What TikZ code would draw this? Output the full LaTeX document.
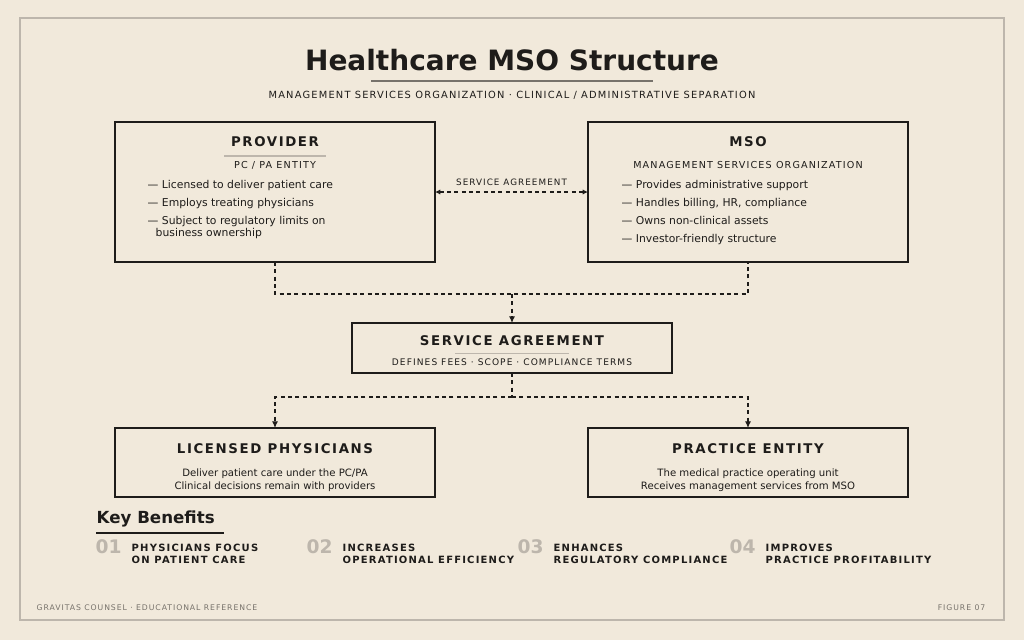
\documentclass[tikz,border=0pt]{standalone}
\usepackage{fontspec}
\setmainfont{DejaVu Sans}
\usetikzlibrary{positioning, arrows.meta, calc}
\definecolor{paper}{HTML}{F1E9DB}
\definecolor{ink}{HTML}{1E1C1A}
\definecolor{soft}{HTML}{77726B}
\definecolor{rulec}{HTML}{BDB6AC}
\newcommand{\spaced}[1]{{\addfontfeatures{LetterSpace=12}#1}}
\tikzset{
  box/.style={draw=ink, line width=1.4pt, fill=paper},
  smallbox/.style={draw=ink, line width=1pt, fill=paper},
  link/.style={draw=ink, line width=0.8pt, dash pattern=on 3pt off 2.5pt},
  tip/.style={-{Latex[length=5pt,width=4.5pt]}},
  head/.style={font=\bfseries\fontsize{10}{12}\selectfont, text=ink},
  note/.style={font=\fontsize{6.6}{8}\selectfont, text=ink},
  item/.style={anchor=north west, font=\fontsize{8.1}{10}\selectfont, text=ink, align=left},
  num/.style={font=\bfseries\fontsize{14}{14}\selectfont, text=rulec, anchor=west},
  benefit/.style={font=\bfseries\fontsize{7.5}{9.5}\selectfont, text=ink, anchor=west, align=left}
}
\begin{document}
\begin{tikzpicture}[x=0.75pt, y=-0.75pt]
    \fill[paper] (0,0) rectangle (1024,640);
    \useasboundingbox (0,0) rectangle (1024,640);
    \draw[rulec, line width=0.8pt] (20,18) rectangle (1004,620);

    % titel
    \node[font=\bfseries\fontsize{21}{24}\selectfont, text=ink] (title) at (512,60) {Healthcare MSO Structure};
    \draw[soft, line width=0.8pt] (371,81) -- (653,81);
    \node[note, font=\fontsize{7.4}{9}\selectfont] (subtitle) at (512,95) {\spaced{MANAGEMENT SERVICES ORGANIZATION · CLINICAL / ADMINISTRATIVE SEPARATION}};

    % provider
    \draw[box] (115,122) rectangle (435,262);
    \coordinate (prov) at (275,262);
    \coordinate (provE) at (435,192);
    \node[head] at (275,142) {\spaced{PROVIDER}};
    \draw[rulec, line width=0.8pt] (224,156) -- (326,156);
    \node[note, font=\fontsize{7.2}{9}\selectfont] at (275,165) {\spaced{PC / PA ENTITY}};
    \node[item] at (143,176) {— Licensed to deliver patient care};
    \node[item] at (143,194) {— Employs treating physicians};
    \node[item] at (143,212) {— Subject to regulatory limits on\\[-1.5pt]\hspace*{6pt}business ownership};

    % mso
    \draw[box] (588,122) rectangle (908,262);
    \coordinate (mso) at (748,262);
    \coordinate (msoW) at (588,192);
    \node[head] at (748,142) {\spaced{MSO}};
    \node[note, font=\fontsize{7.2}{9}\selectfont] at (748,165) {\spaced{MANAGEMENT SERVICES ORGANIZATION}};
    \node[item] at (617,176) {— Provides administrative support};
    \node[item] at (617,194) {— Handles billing, HR, compliance};
    \node[item] at (617,212) {— Owns non-clinical assets};
    \node[item] at (617,230) {— Investor-friendly structure};

    % verbindung oben
    \draw[link, {Latex[length=4pt,width=4pt]}-{Latex[length=4pt,width=4pt]}] (provE) -- (msoW)
        node[midway, above=1pt, note] {\spaced{SERVICE AGREEMENT}};

    % service agreement
    \draw[box] (352,323) rectangle (672,373);
    \coordinate (svcN) at (512,323);
    \coordinate (svcS) at (512,373);
    \node[head] at (512,341) {\spaced{SERVICE AGREEMENT}};
    \draw[rulec, line width=0.6pt] (455,353) -- (569,353);
    \node[note, font=\fontsize{6.8}{9}\selectfont] at (512,362) {\spaced{DEFINES FEES · SCOPE · COMPLIANCE TERMS}};

    \coordinate (top) at (512,294);
    \draw[link] (prov) |- (top) -| (mso);
    \draw[link, tip] (top) -- (svcN);

    % unten
    \draw[smallbox] (115,428) rectangle (435,497);
    \coordinate (phys) at (275,428);
    \node[head] at (275,449) {\spaced{LICENSED PHYSICIANS}};
    \node[note, font=\fontsize{7.6}{9.5}\selectfont, align=center] at (275,480) {Deliver patient care under the PC/PA\\Clinical decisions remain with providers};

    \draw[smallbox] (588,428) rectangle (908,497);
    \coordinate (prac) at (748,428);
    \node[head] at (748,449) {\spaced{PRACTICE ENTITY}};
    \node[note, font=\fontsize{7.6}{9.5}\selectfont, align=center] at (748,480) {The medical practice operating unit\\Receives management services from MSO};

    \coordinate (split) at (512,397);
    \draw[link] (svcS) -- (split);
    \draw[link, tip] (split) -| (phys);
    \draw[link, tip] (split) -| (prac);

    % benefits
    \node[font=\bfseries\fontsize{12.5}{14}\selectfont, text=ink, anchor=west] (kb) at (92,519) {Key Benefits};
    \draw[ink, line width=0.8pt] (96,533) -- (224,533);
    \node[num] at (91,547) {01};
    \node[benefit] at (127,554) {\spaced{PHYSICIANS FOCUS}\\\spaced{ON PATIENT CARE}};
    \node[num] at (302,547) {02};
    \node[benefit] at (338,554) {\spaced{INCREASES}\\\spaced{OPERATIONAL EFFICIENCY}};
    \node[num] at (513,547) {03};
    \node[benefit] at (549,554) {\spaced{ENHANCES}\\\spaced{REGULATORY COMPLIANCE}};
    \node[num] at (725,547) {04};
    \node[benefit] at (761,554) {\spaced{IMPROVES}\\\spaced{PRACTICE PROFITABILITY}};

    % fuss
    \node[font=\fontsize{5.8}{7}\selectfont, text=soft, anchor=west] at (32,608) {\spaced{GRAVITAS COUNSEL · EDUCATIONAL REFERENCE}};
    \node[font=\fontsize{5.8}{7}\selectfont, text=soft, anchor=east] at (990,608) {\spaced{FIGURE 07}};
\end{tikzpicture}
\end{document}
